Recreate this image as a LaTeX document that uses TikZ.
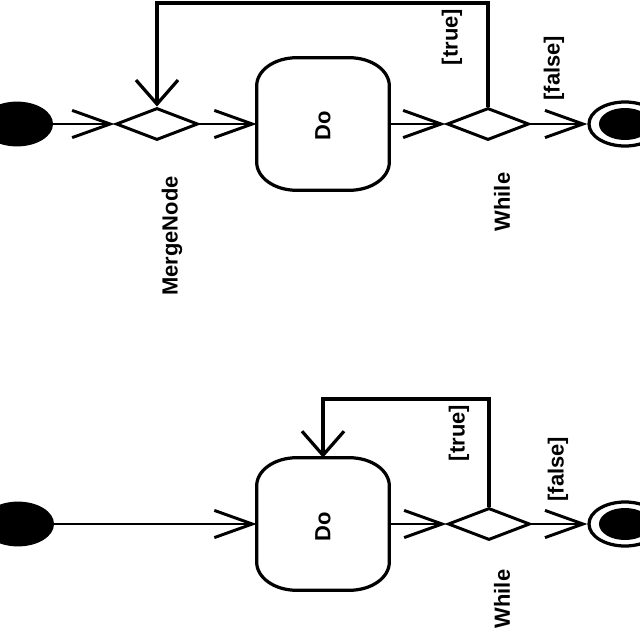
\documentclass[tikz,border=0pt]{standalone}
\usepackage{fontspec}
\setmainfont{Liberation Sans}
\usetikzlibrary{arrows.meta,shapes.geometric}
\begin{document}
\begin{tikzpicture}[x=0.025cm,y=0.025cm,
  hflow/.style={line width=2.1pt,-{Straight Barb[length=0.95cm,width=0.68cm]}},
  vflow/.style={line width=2.3pt,-{Straight Barb[length=0.6cm,width=1.05cm]}},
  boxln/.style={line width=2.3pt},
  initnode/.style={ellipse,fill=black,minimum width=1.8cm,minimum height=1.12cm,inner sep=0pt},
  finalouter/.style={ellipse,draw=black,line width=2.3pt,minimum width=1.8cm,minimum height=1.1cm,inner sep=0pt},
  finalinner/.style={ellipse,fill=black,minimum width=1.3cm,minimum height=0.8cm,inner sep=0pt},
  decision/.style={diamond,draw=black,line width=2.1pt,minimum width=2.05cm,minimum height=0.8cm,inner sep=0pt},
  action/.style={rectangle,minimum width=3.3cm,minimum height=3.3cm,inner sep=0pt},
  lbl/.style={rotate=90,inner sep=0pt,font=\fontsize{15.6}{18}\selectfont\bfseries}]
\useasboundingbox (0,0) rectangle (640,-640);
\fill[white] (0,0) rectangle (640,-640);
\clip (0,0) rectangle (640,-640);

% ---------- top diagram ----------
\node[initnode] (i1) at (17,-124) {};
\node[decision] (m1) at (157,-124) {};
\node[action] (do1) at (323,-124) {};
\node[lbl] (dt1) at (323,-126) {Do};
\node[decision] (w1) at (488,-124) {};
\node[finalouter] (f1) at (625,-124) {};
\node[finalinner] (f1in) at (f1.center) {};
\coordinate (t1) at (157,-3);

\draw[boxln] ([shift={(40,0)}]do1.north west) -- ([shift={(-40,0)}]do1.north east)
  arc[start angle=90,end angle=0,x radius=40,y radius=28]
  -- ([shift={(0,28)}]do1.south east)
  arc[start angle=0,end angle=-90,x radius=40,y radius=28]
  -- ([shift={(40,0)}]do1.south west)
  arc[start angle=270,end angle=180,x radius=40,y radius=28]
  -- ([shift={(0,-28)}]do1.north west)
  arc[start angle=180,end angle=90,x radius=40,y radius=28] -- cycle;

\draw[hflow] (i1) -- (m1.west);
\draw[hflow] (m1.east) -- (do1.west);
\draw[hflow] (do1.east) -- (w1.west);
\draw[hflow] (w1.east) -- (f1.west);
\draw[vflow] (w1.north) |- (t1) -- (m1.north);

\node[lbl] (ml1) at (172,-236) {MergeNode};
\node[lbl] (wl1) at (502,-202) {While};
\node[lbl] (tl1) at (452,-37) {[true]};
\node[lbl] (fl1) at (554,-68) {[false]};

% ---------- bottom diagram ----------
\node[initnode] (i2) at (18,-524) {};
\node[action] (do2) at (323,-524) {};
\node[lbl] (dt2) at (323,-527) {Do};
\node[decision] (w2) at (489,-524) {};
\node[finalouter] (f2) at (625,-524) {};
\node[finalinner] (f2in) at (f2.center) {};
\coordinate (t2) at (323,-399);

\draw[boxln] ([shift={(40,0)}]do2.north west) -- ([shift={(-40,0)}]do2.north east)
  arc[start angle=90,end angle=0,x radius=40,y radius=28]
  -- ([shift={(0,28)}]do2.south east)
  arc[start angle=0,end angle=-90,x radius=40,y radius=28]
  -- ([shift={(40,0)}]do2.south west)
  arc[start angle=270,end angle=180,x radius=40,y radius=28]
  -- ([shift={(0,-28)}]do2.north west)
  arc[start angle=180,end angle=90,x radius=40,y radius=28] -- cycle;

\draw[hflow] (i2) -- (do2.west);
\draw[hflow] (do2.east) -- (w2.west);
\draw[hflow] (w2.east) -- (f2.west);
\draw[vflow] (w2.north) |- (t2) -- (do2.north);

\node[lbl] (wl2) at (502,-599) {While};
\node[lbl] (tl2) at (459,-433) {[true]};
\node[lbl] (fl2) at (558,-469) {[false]};
\end{tikzpicture}
\end{document}
